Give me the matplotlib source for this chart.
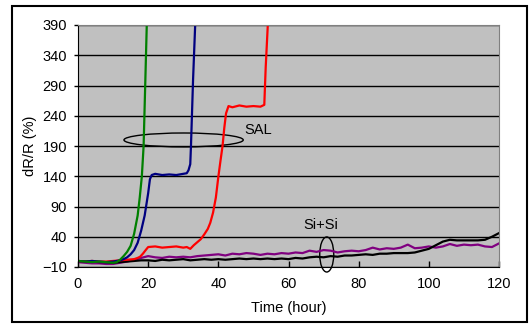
import matplotlib
matplotlib.use("Agg")
import matplotlib.pyplot as plt
from matplotlib.patches import Ellipse, Rectangle

plt.rcParams["font.family"] = ["Liberation Sans", "DejaVu Sans"]

# green sample
t_verde = [0, 2, 4, 6, 8, 10, 11, 12, 13, 14, 15, 16, 17, 17.6, 18.2, 18.7, 19.2, 19.6, 19.8]
r_verde = [0, -1, -2, -1, -2, -3, -2, 2, 8, 15, 25, 45, 75, 105, 140, 190, 300, 390, 420]

# blue sample
t_azul = [0, 2, 4, 6, 8, 10, 12, 13, 14, 15, 16, 17, 17.5, 18, 19, 20, 20.5, 21, 22, 24, 26,
          28, 30, 31, 31.5, 32, 32.2, 32.8, 33.4, 33.6]
r_azul = [0, -1, 0, -1, -2, -1, 1, 3, 6, 11, 18, 30, 40, 50, 75, 112, 135, 142, 144, 142, 143,
          142, 144, 145, 150, 160, 190, 300, 390, 420]

# red sample
t_verm = [0, 2, 4, 6, 8, 10, 12, 14, 16, 17, 17.7, 18.5, 19.3, 20, 22, 24, 26, 28, 30, 31, 32,
          33, 34, 35, 36, 37, 37.7, 38.5, 39.3, 40, 40.6, 41.2, 41.7, 42.2, 42.9, 44, 46, 48,
          50, 52, 53.1, 53.5, 54.1, 54.4]
r_verm = [0, -1, 0, -1, -1, 0, 1, 2, 3, 5, 7, 12, 18, 23, 24, 22, 23, 24, 22, 23, 20,
          26, 31, 36, 44, 53, 63, 80, 105, 139, 165, 190, 220, 244, 256, 254, 257, 255,
          256, 255, 258, 320, 390, 420]

# Si+Si samples
t_si = list(range(0, 121, 2))
r_roxo = [-2, -3, -4, -4, -5, -5, -3, -1, 2, 5, 8, 6, 5, 7, 6, 7, 6, 8, 9, 10, 11,
          9, 12, 11, 13, 12, 10, 12, 11, 13, 12, 14, 13, 17, 15, 18, 17, 14, 16, 17, 16,
          18, 22, 19, 21, 20, 22, 27, 21, 22, 24, 22, 24, 28, 25, 27, 26, 27, 24, 23, 29]
r_preto = [0, -1, -1, -2, -2, -3, -2, -1, 0, 1, 1, 0, 2, 1, 2, 3, 1, 2, 3, 2, 3,
           2, 3, 4, 3, 4, 3, 4, 3, 4, 3, 5, 4, 6, 7, 6, 8, 7, 9, 9, 10,
           11, 10, 12, 12, 13, 13, 13, 14, 17, 20, 26, 32, 35, 34, 34, 34, 34, 35, 40, 46]

fig = plt.figure(figsize=(5.3, 3.25), dpi=100)
ax = fig.add_axes([78 / 530, 58 / 325, 421 / 530, 242 / 325])
ax.set_facecolor("#C0C0C0")

ax.plot(t_si, r_roxo, color="#800080", lw=1.6)
ax.plot(t_si, r_preto, color="black", lw=1.6)
ax.plot(t_verm, r_verm, color="#FF0000", lw=1.6)
ax.plot(t_azul, r_azul, color="#000080", lw=1.6)
ax.plot(t_verde, r_verde, color="#008000", lw=1.6)

ax.set_xlim(0, 120)
ax.set_ylim(-10, 390)
ax.set_xticks(range(0, 121, 20))
ax.set_yticks(range(-10, 391, 50))
ax.yaxis.grid(True, color="black", lw=1)
ax.set_axisbelow(True)
ax.tick_params(axis="x", direction="in", length=4, width=1, pad=7, labelsize=10.5)
ax.tick_params(axis="y", direction="out", length=3, width=1, pad=5, labelsize=10.5)
for lado in ["top", "right"]:
    ax.spines[lado].set_color("#808080")
ax.spines["left"].set_color("black")
ax.spines["bottom"].set_color("black")

ax.add_patch(Ellipse((30.1, 200), 34, 23, fill=False, lw=1, color="black", clip_on=False))
ax.text(47.3, 216, "SAL", fontsize=10.5, va="center", ha="left")
ax.add_patch(Ellipse((70.9, 10.7), 4, 58, fill=False, lw=1, color="black", clip_on=False))
ax.text(69.1, 59, "Si+Si", fontsize=10.5, va="center", ha="center")

fig.text(0.057, 0.551, "dR/R (%)", rotation=90, fontsize=10.5, ha="center", va="center")
fig.text(0.544, 0.052, "Time (hour)", fontsize=10.5, ha="center", va="center")

fig.add_artist(Rectangle((12 / 530, 3 / 325), 515 / 530, 316 / 325, fill=False,
                         lw=1.5, color="black", transform=fig.transFigure))

fig.savefig("out.png", dpi=100)
